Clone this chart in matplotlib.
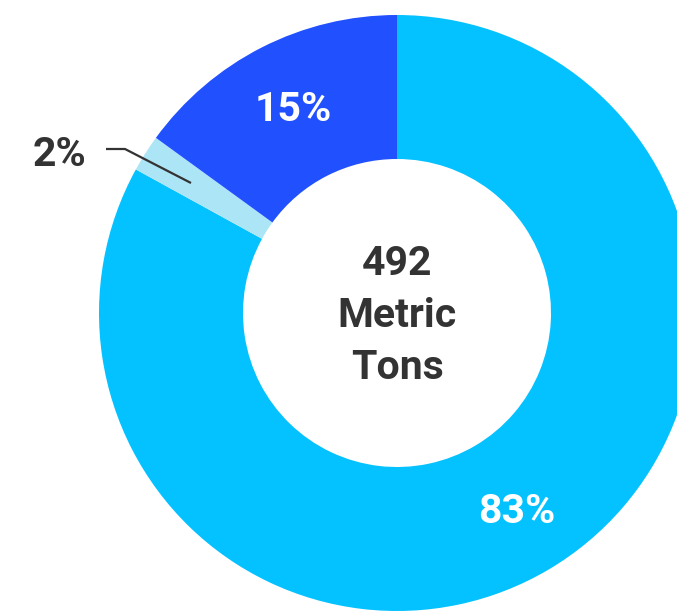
import matplotlib
matplotlib.use("Agg")
import matplotlib.pyplot as plt

labels = ["83%", "2%", "15%"]
values = [83, 2, 15]
colors = ["#04C2FF", "#ACE5F6", "#2150FF"]
center_lines = ["492", "Metric", "Tons"]

W, H = 677, 612
fig = plt.figure(figsize=(W / 100, H / 100), dpi=100)
ax = fig.add_axes([0, 0, 1, 1])
ax.set_xlim(0, W)
ax.set_ylim(0, H)
ax.set_aspect("equal")
ax.axis("off")

cx, cy, R = 397, H - 313, 298
wedges, _ = ax.pie(values, colors=colors, startangle=90, counterclock=False,
                   radius=R, center=(cx, cy),
                   wedgeprops=dict(width=R - 154, linewidth=0))
ax.set_xlim(0, W)
ax.set_ylim(0, H)

font = dict(family=["Roboto", "DejaVu Sans"], fontweight="bold")
fs = 29.5
# slice labels
ax.text(517, H - 512, labels[0], color="white", fontsize=fs, ha="center", va="center", **font)
ax.text(293, H - 110, labels[2], color="white", fontsize=fs, ha="center", va="center", **font)
ax.text(60, H - 155, labels[1], color="#333333", fontsize=fs, ha="center", va="center", **font)
ax.plot([106, 125, 191], [H - 149, H - 149, H - 183], color="#333333", lw=1.6,
        solid_capstyle="butt")

# center text
for i, t in enumerate(center_lines):
    ax.text(cx, H - (264 + i * 52), t, color="#333333", fontsize=fs,
            ha="center", va="center", **font)

fig.savefig("out.png", dpi=100)
